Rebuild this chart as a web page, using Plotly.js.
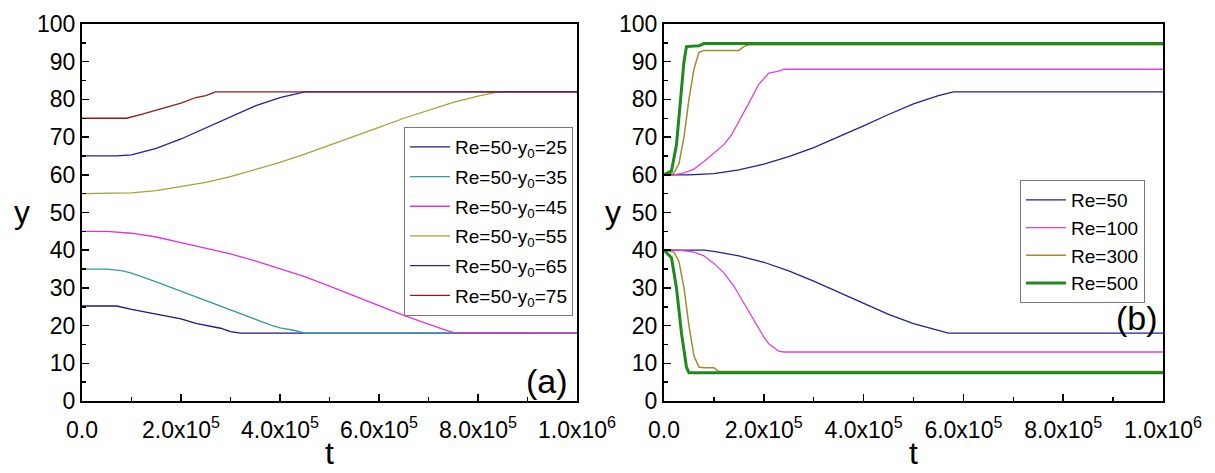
<!DOCTYPE html>
<html>
<head>
<meta charset="utf-8">
<script src="https://cdn.plot.ly/plotly-3.0.1.min.js"></script>
<style>html,body{margin:0;padding:0;background:#fff;}#chart{width:1215px;height:473px;}</style>
</head>
<body>
<div id="chart"></div>
<script>
// ---------- Panel (a): Re=50, different initial positions y0 ----------
const aNames = ['Re=50-y<sub>0</sub>=25','Re=50-y<sub>0</sub>=35','Re=50-y<sub>0</sub>=45','Re=50-y<sub>0</sub>=55','Re=50-y<sub>0</sub>=65','Re=50-y<sub>0</sub>=75'];
const aColors = ['#1c1c7c','#379a9c','#dd33dd','#a3a335','#2020a0','#8b1c1c'];

const a25_t = [0, 7e4, 1e5, 1.5e5, 2e5, 2.3e5, 2.6e5, 2.8e5, 3e5, 3.2e5, 1e6];
const a25_y = [25.2, 25.2, 24.3, 23.0, 21.8, 20.6, 19.7, 19.3, 18.4, 18, 18];

const a35_t = [0, 5e4, 8e4, 1e5, 1.5e5, 2e5, 2.5e5, 3e5, 3.5e5, 3.8e5, 4e5, 4.3e5, 4.5e5, 1e6];
const a35_y = [35, 35, 34.6, 33.9, 31.6, 29.1, 26.5, 24, 21.6, 20.2, 19.4, 18.7, 18, 18];

const a45_t = [0, 5e4, 1e5, 1.5e5, 2e5, 2.5e5, 3e5, 3.5e5, 4e5, 4.5e5, 5e5, 5.5e5, 6e5, 6.5e5, 7e5, 7.3e5, 7.5e5, 1e6];
const a45_y = [45, 45, 44.5, 43.5, 42, 40.5, 39, 37.2, 35.2, 33, 30.5, 28, 25.3, 22.7, 20.3, 19, 18.2, 18];

const a55_t = [0, 5e4, 1e5, 1.5e5, 2e5, 2.5e5, 3e5, 3.5e5, 4e5, 4.5e5, 5e5, 5.5e5, 6e5, 6.5e5, 7e5, 7.5e5, 8e5, 8.4e5, 1e6];
const a55_y = [55, 55, 55.2, 55.8, 56.8, 58, 59.5, 61.3, 63.3, 65.5, 67.8, 70.2, 72.6, 75, 77.2, 79.2, 80.9, 82, 82];

const a65_t = [0, 7e4, 1e5, 1.5e5, 2e5, 2.5e5, 3e5, 3.5e5, 4e5, 4.3e5, 4.5e5, 1e6];
const a65_y = [65, 65, 65.3, 67, 69.5, 72.5, 75.5, 78.3, 80.5, 81.3, 82, 82];

const a75_t = [0, 9e4, 1.2e5, 1.6e5, 2e5, 2.3e5, 2.5e5, 2.7e5, 1e6];
const a75_y = [75, 75, 76, 77.5, 79, 80.5, 81, 82, 82];

// ---------- Panel (b): different Re, y0 = 60 (upper) and 40 (lower) ----------
const bNames = ['Re=50','Re=100','Re=300','Re=500'];
const bColors = ['#22228f','#e040e0','#a08c30','#1e8a1e'];

const b50u_t = [0, 5e4, 1e5, 1.5e5, 2e5, 2.5e5, 3e5, 3.5e5, 4e5, 4.5e5, 5e5, 5.5e5, 5.8e5, 1e6];
const b50u_y = [60, 60, 60.3, 61.3, 62.8, 64.8, 67.2, 70, 73, 76, 78.8, 81, 82, 82];
const b50l_t = [0, 8e4, 1e5, 1.5e5, 2e5, 2.5e5, 3e5, 3.5e5, 4e5, 4.5e5, 5e5, 5.5e5, 5.7e5, 1e6];
const b50l_y = [40, 40, 39.7, 38.5, 36.8, 34.5, 31.8, 28.8, 25.8, 23, 20.5, 18.6, 18, 18];

const b100u_t = [0, 2e4, 4e4, 6e4, 8e4, 1e5, 1.2e5, 1.35e5, 1.5e5, 1.7e5, 1.9e5, 2.1e5, 2.3e5, 2.4e5, 1e6];
const b100u_y = [60, 60, 60.5, 61.5, 63.5, 65.8, 68, 70.5, 74, 79, 84, 87, 87.5, 88, 88];
const b100l_t = [0, 3e4, 6e4, 8e4, 1e5, 1.2e5, 1.4e5, 1.6e5, 1.8e5, 2e5, 2.1e5, 2.2e5, 2.3e5, 2.4e5, 1e6];
const b100l_y = [40, 40, 39.5, 38.5, 36.5, 34, 30.5, 26, 21.5, 17, 15.2, 14.3, 13.2, 13, 13];

const b300u_t = [0, 2e4, 3e4, 4e4, 5e4, 6e4, 7e4, 8e4, 1.5e5, 1.6e5, 1.7e5, 1e6];
const b300u_y = [60, 60.5, 63, 70, 80, 88, 92.5, 93, 93, 94, 94.5, 94.5];
const b300l_t = [0, 2e4, 3e4, 4e4, 5e4, 6e4, 7e4, 8e4, 1e5, 1.1e5, 1e6];
const b300l_y = [40, 39.5, 37, 30, 20, 12, 9, 8.8, 8.8, 7.8, 7.8];

const b500u_t = [0, 1.5e4, 2.5e4, 3.5e4, 4e4, 4.5e4, 7e4, 8e4, 1e6];
const b500u_y = [60, 61, 68, 82, 90, 94, 94.2, 94.8, 94.8];
const b500l_t = [0, 1.5e4, 2.5e4, 3.5e4, 4.5e4, 5e4, 1e6];
const b500l_y = [40, 38, 30, 18, 9, 7.5, 7.5];

// ---------- Axis ticks ----------
const xTickVals = [0, 2e5, 4e5, 6e5, 8e5, 1e6];
const xTickText = ['0.0', '2.0x10<sup>5</sup>', '4.0x10<sup>5</sup>', '6.0x10<sup>5</sup>', '8.0x10<sup>5</sup>', '1.0x10<sup>6</sup>'];
const yTickVals = [0, 10, 20, 30, 40, 50, 60, 70, 80, 90, 100];

const FONT = 'Liberation Sans, Arial, sans-serif';

const aT = [a25_t, a35_t, a45_t, a55_t, a65_t, a75_t];
const aY = [a25_y, a35_y, a45_y, a55_y, a65_y, a75_y];
const traces = [];
for (let i = 0; i < aNames.length; i++) {
  traces.push({x: aT[i], y: aY[i], type: 'scatter', mode: 'lines', name: aNames[i],
    xaxis: 'x', yaxis: 'y', legend: 'legend', legendgroup: 'a' + i,
    line: {color: aColors[i], width: 1.3}});
}
const bU_t = [b50u_t, b100u_t, b300u_t, b500u_t];
const bU_y = [b50u_y, b100u_y, b300u_y, b500u_y];
const bL_t = [b50l_t, b100l_t, b300l_t, b500l_t];
const bL_y = [b50l_y, b100l_y, b300l_y, b500l_y];
const bWidths = [1.3, 1.3, 1.5, 3];
for (let i = 0; i < bNames.length; i++) {
  traces.push({x: bU_t[i], y: bU_y[i], type: 'scatter', mode: 'lines', name: bNames[i],
    xaxis: 'x2', yaxis: 'y2', legend: 'legend2', legendgroup: 'b' + i,
    line: {color: bColors[i], width: bWidths[i]}});
  traces.push({x: bL_t[i], y: bL_y[i], type: 'scatter', mode: 'lines', name: bNames[i],
    xaxis: 'x2', yaxis: 'y2', legend: 'legend2', legendgroup: 'b' + i, showlegend: false,
    line: {color: bColors[i], width: bWidths[i]}});
}

function xAxis(domain, anchor) {
  return {domain: domain, anchor: anchor, range: [0, 1e6], tickmode: 'array',
    tickvals: xTickVals, ticktext: xTickText, ticks: 'inside', ticklen: 7, tickwidth: 1.5,
    tickcolor: '#000', minor: {dtick: 1e5, tick0: 0, ticks: 'inside', ticklen: 4, tickwidth: 1.5, tickcolor: '#000'},
    showline: true, mirror: true, linecolor: '#000', linewidth: 2, showgrid: false, zeroline: false,
    ticklabelstandoff: 7,
    tickfont: {family: FONT, size: 23, color: '#000'},
    title: {text: 't', font: {family: FONT, size: 32, color: '#000'}, standoff: 0}};
}
function yAxis(domain, anchor) {
  return {domain: domain, anchor: anchor, range: [0, 100], tickmode: 'array', tickvals: yTickVals,
    ticks: 'inside', ticklen: 7, tickwidth: 1.5, tickcolor: '#000',
    minor: {dtick: 5, tick0: 0, ticks: 'inside', ticklen: 4, tickwidth: 1.5, tickcolor: '#000'},
    showline: true, mirror: true, linecolor: '#000', linewidth: 2, showgrid: false, zeroline: false,
    tickfont: {family: FONT, size: 23, color: '#000'}};
}

const W = 1215, H = 473;
const yDom = [72 / H, 449 / H];
const layout = {
  width: W, height: H, margin: {l: 0, r: 0, t: 0, b: 0},
  paper_bgcolor: '#fff', plot_bgcolor: '#fff',
  xaxis: xAxis([82 / W, 577 / W], 'y'),
  yaxis: yAxis(yDom, 'x'),
  xaxis2: xAxis([664 / W, 1163 / W], 'y2'),
  yaxis2: yAxis(yDom, 'x2'),
  legend: {x: 404 / W, y: (H - 127) / H, xanchor: 'left', yanchor: 'top', bgcolor: '#fff',
    bordercolor: '#777', borderwidth: 1, font: {family: FONT, size: 19, color: '#000'}, itemwidth: 40,
    tracegroupgap: 2},
  legend2: {x: 1020 / W, y: (H - 180) / H, xanchor: 'left', yanchor: 'top', bgcolor: '#fff',
    bordercolor: '#777', borderwidth: 1, font: {family: FONT, size: 19, color: '#000'}, itemwidth: 40,
    tracegroupgap: 0},
  showlegend: true,
  annotations: [
    {text: '(a)', xref: 'paper', yref: 'paper', x: 570 / W, y: (H - 381) / H, xanchor: 'right', yanchor: 'middle',
      showarrow: false, font: {family: FONT, size: 34, color: '#000'}},
    {text: '(b)', xref: 'paper', yref: 'paper', x: 1160 / W, y: (H - 318) / H, xanchor: 'right', yanchor: 'middle',
      showarrow: false, font: {family: FONT, size: 34, color: '#000'}},
    {text: 'y', xref: 'paper', yref: 'paper', x: 22 / W, y: (H - 212) / H, xanchor: 'center', yanchor: 'middle',
      showarrow: false, font: {family: FONT, size: 32, color: '#000'}},
    {text: 'y', xref: 'paper', yref: 'paper', x: 613 / W, y: (H - 212) / H, xanchor: 'center', yanchor: 'middle',
      showarrow: false, font: {family: FONT, size: 32, color: '#000'}}
  ]
};

Plotly.newPlot('chart', traces, layout, {displayModeBar: false, staticPlot: true});
</script>
</body>
</html>
